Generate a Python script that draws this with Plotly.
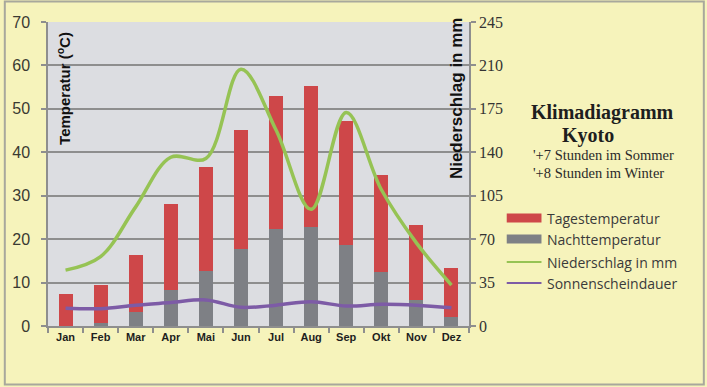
import plotly.graph_objects as go

monate = ["Jan", "Feb", "Mar", "Apr", "Mai", "Jun", "Jul", "Aug", "Sep", "Okt", "Nov", "Dez"]
tagestemperatur = [7.4, 9.5, 16.3, 28.2, 36.5, 45.1, 53.0, 55.3, 47.3, 34.7, 23.3, 13.3]
nachttemperatur = [0.0, 0.8, 3.3, 8.3, 12.7, 17.8, 22.3, 22.9, 18.7, 12.4, 6.1, 2.1]
niederschlag = [45, 56, 96, 136, 135, 207, 158, 94, 172, 110, 67, 33]
sonnenscheindauer = [4.1, 4.0, 4.8, 5.4, 6.0, 4.3, 4.8, 5.6, 4.6, 5.0, 4.8, 4.2]

temp_ticks = [0, 10, 20, 30, 40, 50, 60, 70]
mm_ticks = [0, 35, 70, 105, 140, 175, 210, 245]

RED = "#CE4749"
GRAY = "#7E8085"
GREEN = "#96C354"
PURPLE = "#7D5BA6"
YELLOW = "#F6F3BB"
PLOTBG = "#DCDDE1"
GRID = "#8E8E8E"

W, H = 707, 387
L, R, T, B = 45, 238, 22, 61
PW, PH = W - L - R, H - T - B


def px(x):
    return (x - L) / PW


def py(y):
    return (H - B - y) / PH


fig = go.Figure()
fig.add_bar(x=monate, y=nachttemperatur, marker_color=GRAY, name="Nachttemperatur",
            showlegend=False, marker_line_width=0)
fig.add_bar(x=monate, y=[t - n for t, n in zip(tagestemperatur, nachttemperatur)],
            marker_color=RED, name="Tagestemperatur", showlegend=False, marker_line_width=0)
fig.add_scatter(x=monate, y=sonnenscheindauer, mode="lines", name="Sonnenscheindauer",
                line=dict(color=PURPLE, width=3.5, shape="spline", smoothing=1), showlegend=False)
fig.add_scatter(x=monate, y=niederschlag, mode="lines", name="Niederschlag in mm", yaxis="y2",
                line=dict(color=GREEN, width=3.5, shape="spline", smoothing=1), showlegend=False)

shapes = [
    dict(type="rect", xref="paper", yref="paper", x0=px(1.5), x1=px(705.5), y0=py(384.5), y1=py(1.5),
         line=dict(color="#A8A89C", width=2), fillcolor="rgba(0,0,0,0)", layer="below"),
]
annotations = []

# manual legend
legend_items = [
    ("Tagestemperatur", "rect", RED, 218),
    ("Nachttemperatur", "rect", GRAY, 239),
    ("Niederschlag in mm", "line", GREEN, 262),
    ("Sonnenscheindauer", "line", PURPLE, 283),
]
for label, kind, color, yc in legend_items:
    if kind == "rect":
        shapes.append(dict(type="rect", xref="paper", yref="paper", x0=px(507), x1=px(542),
                           y0=py(yc + 4.5), y1=py(yc - 4.5), fillcolor=color, line=dict(width=0)))
    else:
        shapes.append(dict(type="line", xref="paper", yref="paper", x0=px(507), x1=px(542),
                           y0=py(yc), y1=py(yc), line=dict(color=color, width=2)))
    annotations.append(dict(text=label, xref="paper", yref="paper", x=px(546), y=py(yc),
                            xanchor="left", yanchor="middle", showarrow=False,
                            font=dict(family="Open Sans", size=14, color="#3A3A3A")))

annotations += [
    dict(text="<b>Klimadiagramm</b>", xref="paper", yref="paper", x=px(603), y=py(113),
         xanchor="center", yanchor="middle", showarrow=False,
         font=dict(family="Liberation Serif", size=20, color="#1E1E1E")),
    dict(text="<b>Kyoto</b>", xref="paper", yref="paper", x=px(589), y=py(135),
         xanchor="center", yanchor="middle", showarrow=False,
         font=dict(family="Liberation Serif", size=20, color="#1E1E1E")),
    dict(text="'+7 Stunden im Sommer", xref="paper", yref="paper", x=px(531), y=py(155),
         xanchor="left", yanchor="middle", showarrow=False,
         font=dict(family="Liberation Serif", size=14.5, color="#2A2A2A")),
    dict(text="'+8 Stunden im Winter", xref="paper", yref="paper", x=px(531), y=py(173),
         xanchor="left", yanchor="middle", showarrow=False,
         font=dict(family="Liberation Serif", size=14.5, color="#2A2A2A")),
    dict(text="<b>Temperatur (<sup>o</sup>C)</b>", xref="paper", yref="paper", x=px(61), y=py(88),
         xanchor="center", yanchor="middle", showarrow=False, textangle=-90,
         font=dict(family="Liberation Sans", size=15, color="#111111")),
    dict(text="<b>Niederschlag in mm</b>", xref="paper", yref="paper", x=px(456), y=py(98),
         xanchor="center", yanchor="middle", showarrow=False, textangle=-90,
         font=dict(family="Liberation Sans", size=17, color="#111111")),
]

fig.update_layout(
    width=W, height=H,
    margin=dict(l=L, r=R, t=T, b=B, pad=0),
    paper_bgcolor=YELLOW, plot_bgcolor=PLOTBG,
    barmode="stack", bargap=0.6,
    showlegend=False,
    shapes=shapes, annotations=annotations,
    xaxis=dict(type="category", tickson="boundaries", ticks="outside", ticklen=5,
               tickcolor=GRID, tickwidth=1.5, showline=True, linecolor=GRID, linewidth=1.5,
               showgrid=False, range=[-0.5, 11.5],
               tickfont=dict(family="Liberation Sans", size=11, color="#1E1E1E", weight="bold")),
    yaxis=dict(range=[0, 70], tickvals=temp_ticks, ticks="outside", ticklen=5, tickcolor=GRID,
               tickwidth=1.5, showline=True, linecolor=GRID, linewidth=1.5,
               showgrid=True, gridcolor=GRID, gridwidth=1.5, zeroline=False,
               ticklabelstandoff=8,
               tickfont=dict(family="Liberation Sans", size=16, color="#3A3A32")),
    yaxis2=dict(range=[0, 245], tickvals=mm_ticks, overlaying="y", side="right",
                ticks="outside", ticklen=5, tickcolor=GRID, tickwidth=1.5,
                showline=True, linecolor=GRID, linewidth=1.5, showgrid=False, zeroline=False,
                tickfont=dict(family="Liberation Serif", size=16, color="#333333")),
)

fig.write_html("out.html", config={"displayModeBar": False},
               post_script="document.body.style.margin='0';document.body.style.padding='0';")
